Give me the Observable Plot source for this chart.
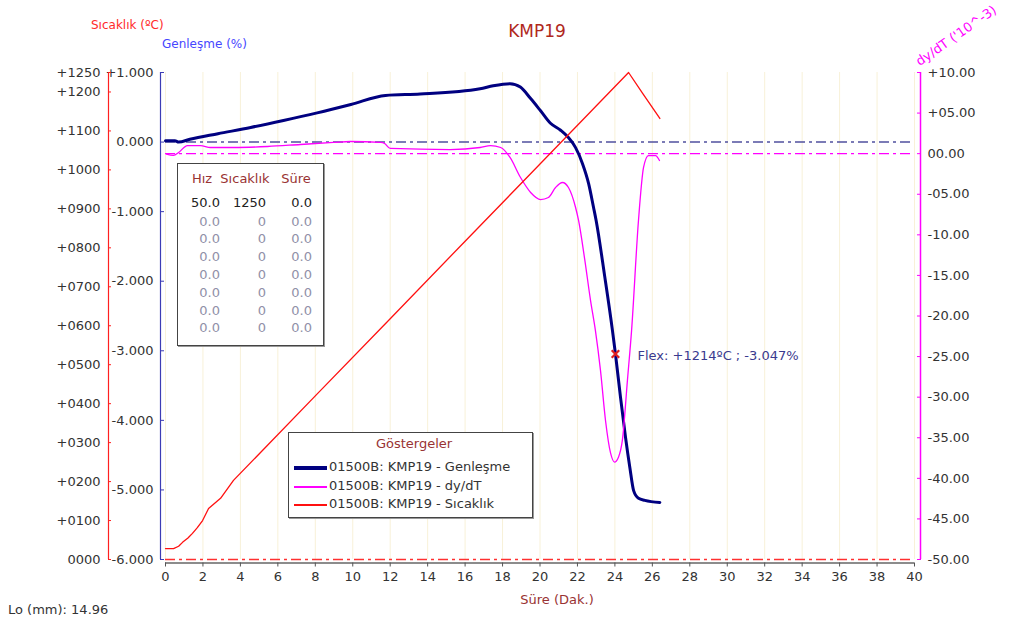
<!DOCTYPE html>
<html><head><meta charset="utf-8">
<script src="https://cdn.jsdelivr.net/npm/d3@7"></script>
<script src="https://cdn.jsdelivr.net/npm/@observablehq/plot@0.6"></script>
<style>
html,body{margin:0;padding:0;background:#fff;overflow:hidden;}
#wrap{position:relative;width:1018px;height:625px;font-family:"DejaVu Sans",sans-serif;font-size:13px;color:#333;overflow:hidden;}
#wrap svg{position:absolute;left:0;top:0;}
.abs{position:absolute;white-space:nowrap;line-height:1;}
</style></head><body><div id="wrap"></div>
<script>
// ---- data ----
const expTime = [0,0.5,0.7,1.3,2.8,4.55,6.3,8.1,9.9,11.75,13.6,16.8,17.5,18.4,18.95,19.5,20.03,20.56,21.1,21.5,21.9,22.27,22.6,22.86,23.0,23.45,23.87,24.03,24.3,24.57,24.8,25.0,25.26,25.6,26.4];
const expVals = [0.02,0.02,0.0,0.04,0.12,0.21,0.31,0.42,0.54,0.67,0.69,0.766,0.81,0.84,0.79,0.625,0.45,0.27,0.17,0.07,-0.08,-0.31,-0.60,-0.94,-1.13,-1.92,-2.71,-3.047,-3.67,-4.25,-4.68,-5.01,-5.12,-5.15,-5.18];

const dTime = [0.05,0.43,0.7,1.17,1.87,2.4,3.63,5.45,7.2,8.97,9.88,11.5,11.7,12.0,15.2,16.8,17.36,17.9,18.4,18.96,19.5,20.03,20.45,20.83,21.2,21.52,21.9,22.06,22.38,22.7,22.96,23.23,23.5,23.77,23.98,24.19,24.4,24.67,24.89,25.26,25.53,25.79,26.17,26.38];
const dVals = [-0.05,-0.2,0.15,1.0,1.0,0.76,0.76,0.88,1.13,1.38,1.5,1.38,1.25,0.64,0.5,0.76,1.0,0.76,-0.47,-2.94,-4.78,-5.65,-5.4,-4.17,-3.55,-4.17,-6.63,-8.23,-12.9,-18.1,-21.8,-26.7,-32.9,-36.9,-38.0,-37.4,-35.3,-27.9,-21.8,-8.2,-1.7,-0.23,-0.23,-0.84];

const tempTime = [0,0.43,0.7,0.91,1.2,1.44,1.7,1.98,2.3,2.94,3.63,8,12,16,20,24.73,25.5,26.4];
const tempVals = [28,28,34,44,55,67,82,100,131,157,203,420,618,817,1015,1250,1195,1132];

const xTicks = [0,2,4,6,8,10,12,14,16,18,20,22,24,26,28,30,32,34,36,38,40];
const expTicks = [1,0,-1,-2,-3,-4,-5,-6];
const tempTicks = [1250,1200,1100,1000,900,800,700,600,500,400,300,200,100,0];
const dTicks = [10,5,0,-5,-10,-15,-20,-25,-30,-35,-40,-45,-50];

const flexPoint = {t: 24.03, e: -3.047, label: "Flex: +1214ºC ; -3.047%"};

const tableHeader = ["Hız","Sıcaklık","Süre"];
const tableRows = [["50.0","1250","0.0"],["0.0","0","0.0"],["0.0","0","0.0"],["0.0","0","0.0"],["0.0","0","0.0"],["0.0","0","0.0"],["0.0","0","0.0"],["0.0","0","0.0"]];
const legendTitle = "Göstergeler";
const legendItems = ["01500B: KMP19 - Genleşme","01500B: KMP19 - dy/dT","01500B: KMP19 - Sıcaklık"];

// ---- scale mapping between the three vertical quantities ----
const E_MIN=-6, E_MAX=1, T_MAX=1250, D_MIN=-50, D_MAX=10;
const tToE = T => E_MIN + T/T_MAX*(E_MAX-E_MIN);
const eToT = e => (e-E_MIN)/(E_MAX-E_MIN)*T_MAX;
const dToE = d => E_MIN + (d-D_MIN)/(D_MAX-D_MIN)*(E_MAX-E_MIN);
const eToD = e => D_MIN + (e-E_MIN)/(E_MAX-E_MIN)*(D_MAX-D_MIN);

const fmtE = e => { const v = Math.round(e*1000)/1000; return (v>0?"+":v<0?"-":"") + Math.abs(v).toFixed(3); };
const fmtT = e => { const T = Math.round(eToT(e)); return T===0 ? "0000" : "+" + String(T).padStart(4,"0"); };
const fmtD = e => { const d = Math.round(eToD(e)); const s = String(Math.abs(d)).padStart(2,"0")+".00"; return d>0?"+"+s:d<0?"-"+s:s; };

const expData = expTime.map((t,i)=>({t, v: expVals[i]}));
const dData = dTime.map((t,i)=>({t, v: dVals[i]}));
const tempData = tempTime.map((t,i)=>({t, v: tempVals[i]}));

const NAVY="#000080", MAG="#ff00ff", RED="#ff1010", BLUEAX="#3c3cb4";
const dash="10,4,3,4";

const chart = Plot.plot({
  width:1018, height:625,
  marginLeft:160, marginRight:98, marginTop:72, marginBottom:66,
  x:{domain:[0,40], range:[165,914]},
  y:{domain:[E_MIN,E_MAX], range:[559,72]},
  style:{fontFamily:"DejaVu Sans", fontSize:"13px", background:"transparent", color:"#333"},
  marks:[
    Plot.gridX(xTicks, {stroke:"#f8f1d8", strokeOpacity:1}),
    Plot.ruleY([0], {x1:0, x2:40, stroke:"#50509e", strokeWidth:1.5, strokeDasharray:dash}),
    Plot.ruleY([dToE(0)], {x1:0, x2:40, stroke:MAG, strokeWidth:1.2, strokeDasharray:dash}),
    // axis lines
    Plot.ruleY([E_MIN], {x1:0, x2:40, dy:3.5, stroke:"#666", strokeWidth:1.5}),
    Plot.ruleY([tToE(0)], {x1:0, x2:40, stroke:"#ff3030", strokeWidth:1.5, strokeDasharray:dash}),
    Plot.ruleX([0], {y1:E_MIN, y2:E_MAX, dx:-5, stroke:BLUEAX, strokeWidth:1.2}),
    Plot.ruleX([0], {y1:E_MIN, y2:E_MAX, dx:-57, stroke:"#ff2020", strokeWidth:1.2}),
    Plot.ruleX([40], {y1:E_MIN, y2:E_MAX, dx:6, stroke:MAG, strokeWidth:1.5}),
    Plot.axisX(xTicks, {tickSize:4, dy:3.5, tickPadding:5, stroke:"#555", fill:"#333", label:null, fontSize:13}),
    Plot.axisY(expTicks, {anchor:"left", tickSize:4, insetLeft:4, tickPadding:7, tickFormat:fmtE, stroke:BLUEAX, fill:"#333", label:null, fontSize:13}),
    Plot.axisY(tempTicks.map(tToE), {anchor:"left", dx:-52, tickSize:3, insetLeft:3, tickPadding:8, tickFormat:fmtT, stroke:"#ff2020", fill:"#333", label:null, fontSize:13}),
    Plot.axisY(dTicks.map(dToE), {anchor:"right", tickSize:4, insetRight:4, tickPadding:7, tickFormat:fmtD, stroke:MAG, fill:"#333", label:null, fontSize:13}),
    // series
    Plot.line(expData, {x:"t", y:"v", stroke:NAVY, strokeWidth:3, curve:"monotone-x"}),
    Plot.line(dData, {x:"t", y:d=>dToE(d.v), stroke:MAG, strokeWidth:1.3, curve:"monotone-x"}),
    Plot.line(tempData, {x:"t", y:d=>tToE(d.v), stroke:RED, strokeWidth:1.3, curve:"linear"}),
    Plot.dot([flexPoint], {x:"t", y:"e", symbol:"times", r:3.5, stroke:"#e02020", strokeWidth:2.2}),
    Plot.text([flexPoint], {x:"t", y:"e", text:"label", dx:22, dy:2, textAnchor:"start", fill:"#3a3a8e", fontSize:13})
  ]
});
const wrap = document.getElementById("wrap");
wrap.appendChild(chart);

function addText(txt, left, cy, opts={}) {
  const el = document.createElement("div");
  el.className = "abs";
  el.textContent = txt;
  const fs = opts.fs || 13;
  el.style.fontSize = fs + "px";
  el.style.top = (cy - fs/2 - 1) + "px";
  if (opts.color) el.style.color = opts.color;
  if (opts.align === "center") { el.style.left = left + "px"; el.style.transform = "translateX(-50%)"; }
  else el.style.left = left + "px";
  if (opts.parent) opts.parent.appendChild(el); else wrap.appendChild(el);
  return el;
}

addText("KMP19", 537, 32, {fs:17, color:"#b0281c", align:"center"});
addText("Sıcaklık (ºC)", 91, 26, {fs:12, color:"#ff2a2a"});
addText("Genleşme (%)", 162, 45, {fs:12, color:"#4646ff"});
addText("Süre (Dak.)", 557, 600, {fs:13, color:"#993333", align:"center"});
addText("Lo (mm): 14.96", 8, 610, {fs:13, color:"#333"});
const dyl = addText("dy/dT ('10^-3)", 921, 62, {fs:13, color:MAG});
dyl.style.transformOrigin = "0 100%";
dyl.style.transform = "rotate(-35deg)";

// parameter table
const tbl = document.createElement("div");
Object.assign(tbl.style, {position:"absolute", left:"177px", top:"163px", width:"145px", height:"181px", border:"1px solid #444", background:"#fff", boxShadow:"1px 1px 0 #999"});
wrap.appendChild(tbl);
const hdrX = [24, 67, 118], numR = [42, 88, 134];
tableHeader.forEach((h,i)=>{
  const el = addText(h, 0, 0, {fs:13, color:"#993333", parent:tbl});
  el.style.left = hdrX[i] + "px"; el.style.top = (15-7.5) + "px"; el.style.transform = "translateX(-50%)";
});
tableRows.forEach((row,r)=>{
  const cy = r===0 ? 39 : 58 + (r-1)*17.8;
  row.forEach((v,c)=>{
    const el = document.createElement("div");
    el.className = "abs"; el.textContent = v;
    el.style.fontSize = "13px";
    el.style.top = (cy - 7.5) + "px";
    el.style.right = (145 - numR[c]) + "px";
    el.style.color = r===0 ? "#222" : "#9090a8";
    tbl.appendChild(el);
  });
});

// legend
const leg = document.createElement("div");
Object.assign(leg.style, {position:"absolute", left:"288px", top:"432px", width:"243px", height:"84px", border:"1px solid #444", background:"#fff", boxShadow:"1px 1px 0 #999"});
wrap.appendChild(leg);
{
  const el = document.createElement("div");
  el.className = "abs"; el.textContent = legendTitle;
  Object.assign(el.style, {fontSize:"13px", color:"#993333", left:"125px", top:"4px", transform:"translateX(-50%)"});
  leg.appendChild(el);
}
const legColors = [NAVY, MAG, RED], legWidths = [4, 2, 2], legY = [35, 54, 72];
legendItems.forEach((txt,i)=>{
  const sw = document.createElement("div");
  Object.assign(sw.style, {position:"absolute", left:"5px", width:"33px", height:legWidths[i]+"px", background:legColors[i], top:(legY[i]-legWidths[i]/2)+"px"});
  leg.appendChild(sw);
  const el = document.createElement("div");
  el.className = "abs"; el.textContent = txt;
  Object.assign(el.style, {fontSize:"13px", color:"#333", left:"40px", top:(legY[i]-8)+"px"});
  leg.appendChild(el);
});
</script></body></html>
